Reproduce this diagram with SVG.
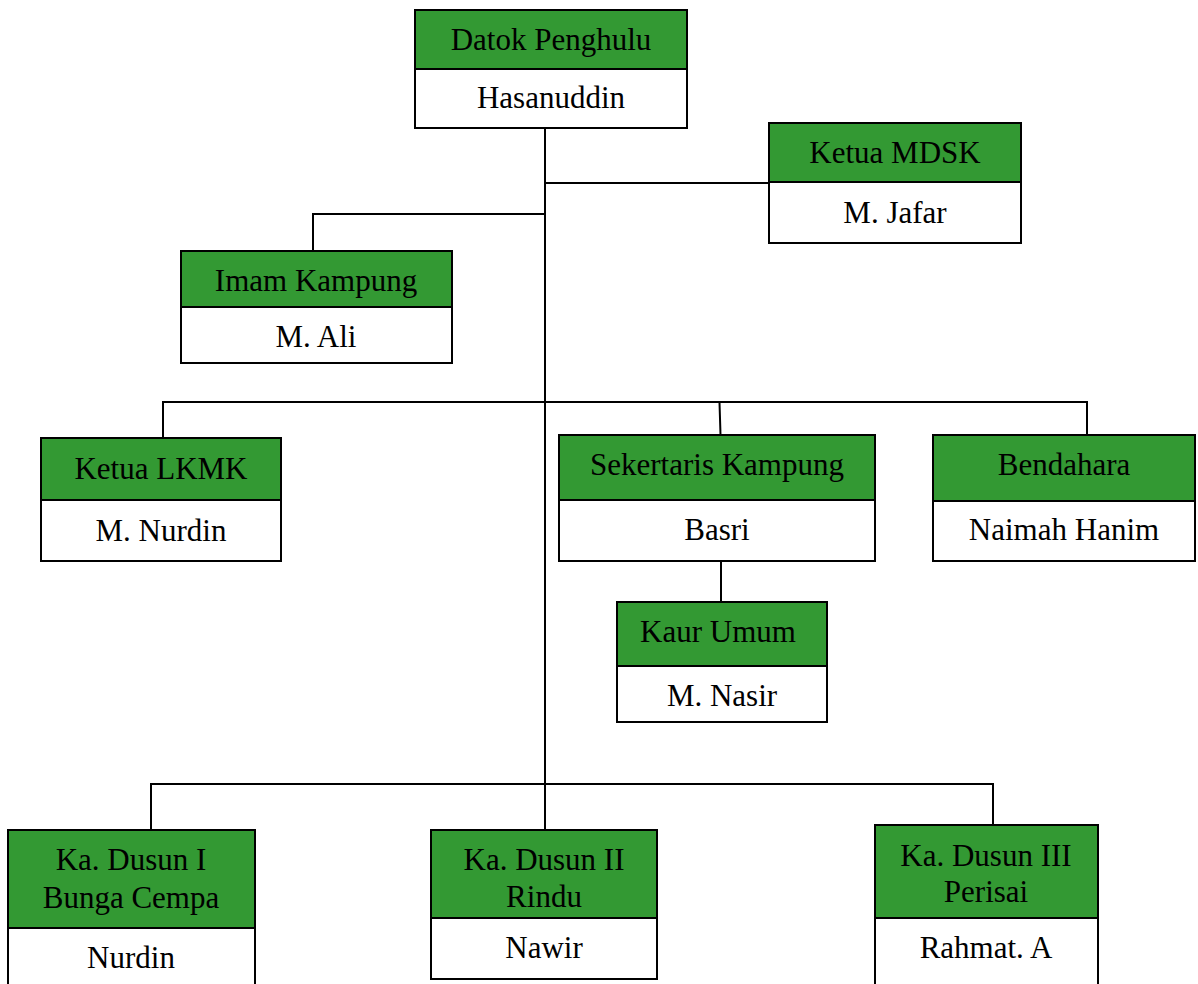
<svg xmlns="http://www.w3.org/2000/svg" width="1198" height="984" viewBox="0 0 1198 984">
<style>
.h{fill:#339933;stroke:#000;stroke-width:2}
.b{fill:#fff;stroke:#000;stroke-width:2}
.t{font-family:'Liberation Serif','Times New Roman',Times,serif;font-size:31px;fill:#000;text-anchor:middle}
.c{fill:none;stroke:#000;stroke-width:2}
</style>
<rect width="1198" height="984" fill="#fff"/>
<g id="connectors" class="c">
<line x1="545" y1="128" x2="545" y2="830"/>
<line x1="545" y1="183" x2="769" y2="183"/>
<line x1="312" y1="214" x2="545" y2="214"/>
<line x1="313" y1="214" x2="313" y2="251"/>
<line x1="162" y1="402" x2="1088" y2="402"/>
<line x1="163" y1="402" x2="163" y2="438"/>
<line x1="719.5" y1="402" x2="720.5" y2="435"/>
<line x1="1087" y1="402" x2="1087" y2="435"/>
<line x1="721" y1="561" x2="721" y2="602"/>
<line x1="150" y1="784" x2="994" y2="784"/>
<line x1="151" y1="784" x2="151" y2="830"/>
<line x1="993" y1="784" x2="993" y2="825"/>
</g>
<g font-family="Liberation Serif, serif">
<g id="datok">
<rect class="h" x="415" y="10" width="272" height="59"/>
<rect class="b" x="415" y="69" width="272" height="59"/>
<text class="t" x="551" y="50">Datok Penghulu</text>
<text class="t" x="551" y="108">Hasanuddin</text>
</g>
<g id="mdsk">
<rect class="h" x="769" y="123" width="252" height="59"/>
<rect class="b" x="769" y="182" width="252" height="61"/>
<text class="t" x="895" y="163">Ketua MDSK</text>
<text class="t" x="895" y="223">M. Jafar</text>
</g>
<g id="imam">
<rect class="h" x="181" y="251" width="271" height="56"/>
<rect class="b" x="181" y="307" width="271" height="56"/>
<text class="t" x="316" y="291">Imam Kampung</text>
<text class="t" x="316" y="347">M. Ali</text>
</g>
<g id="lkmk">
<rect class="h" x="41" y="438" width="240" height="62"/>
<rect class="b" x="41" y="500" width="240" height="61"/>
<text class="t" x="161" y="479">Ketua LKMK</text>
<text class="t" x="161" y="541">M. Nurdin</text>
</g>
<g id="sekertaris">
<rect class="h" x="559" y="435" width="316" height="65"/>
<rect class="b" x="559" y="500" width="316" height="61"/>
<text class="t" x="717" y="475">Sekertaris Kampung</text>
<text class="t" x="717" y="540">Basri</text>
</g>
<g id="bendahara">
<rect class="h" x="933" y="435" width="262" height="66"/>
<rect class="b" x="933" y="501" width="262" height="60"/>
<text class="t" x="1064" y="475">Bendahara</text>
<text class="t" x="1064" y="540">Naimah Hanim</text>
</g>
<g id="kaur">
<rect class="h" x="617" y="602" width="210" height="64"/>
<rect class="b" x="617" y="666" width="210" height="56"/>
<text class="t" x="718" y="642">Kaur Umum</text>
<text class="t" x="722" y="706">M. Nasir</text>
</g>
<g id="dusun1">
<rect class="h" x="8" y="830" width="247" height="98"/>
<rect class="b" x="8" y="928" width="247" height="70"/>
<text class="t" x="131" y="870">Ka. Dusun I</text>
<text class="t" x="131" y="908">Bunga Cempa</text>
<text class="t" x="131" y="968">Nurdin</text>
</g>
<g id="dusun2">
<rect class="h" x="431" y="830" width="226" height="88"/>
<rect class="b" x="431" y="918" width="226" height="61"/>
<text class="t" x="544" y="870">Ka. Dusun II</text>
<text class="t" x="544" y="907">Rindu</text>
<text class="t" x="544" y="958">Nawir</text>
</g>
<g id="dusun3">
<rect class="h" x="875" y="825" width="223" height="93"/>
<rect class="b" x="875" y="918" width="223" height="80"/>
<text class="t" x="986" y="866">Ka. Dusun III</text>
<text class="t" x="986" y="902">Perisai</text>
<text class="t" x="986" y="958">Rahmat. A</text>
</g>
</g>
</svg>
